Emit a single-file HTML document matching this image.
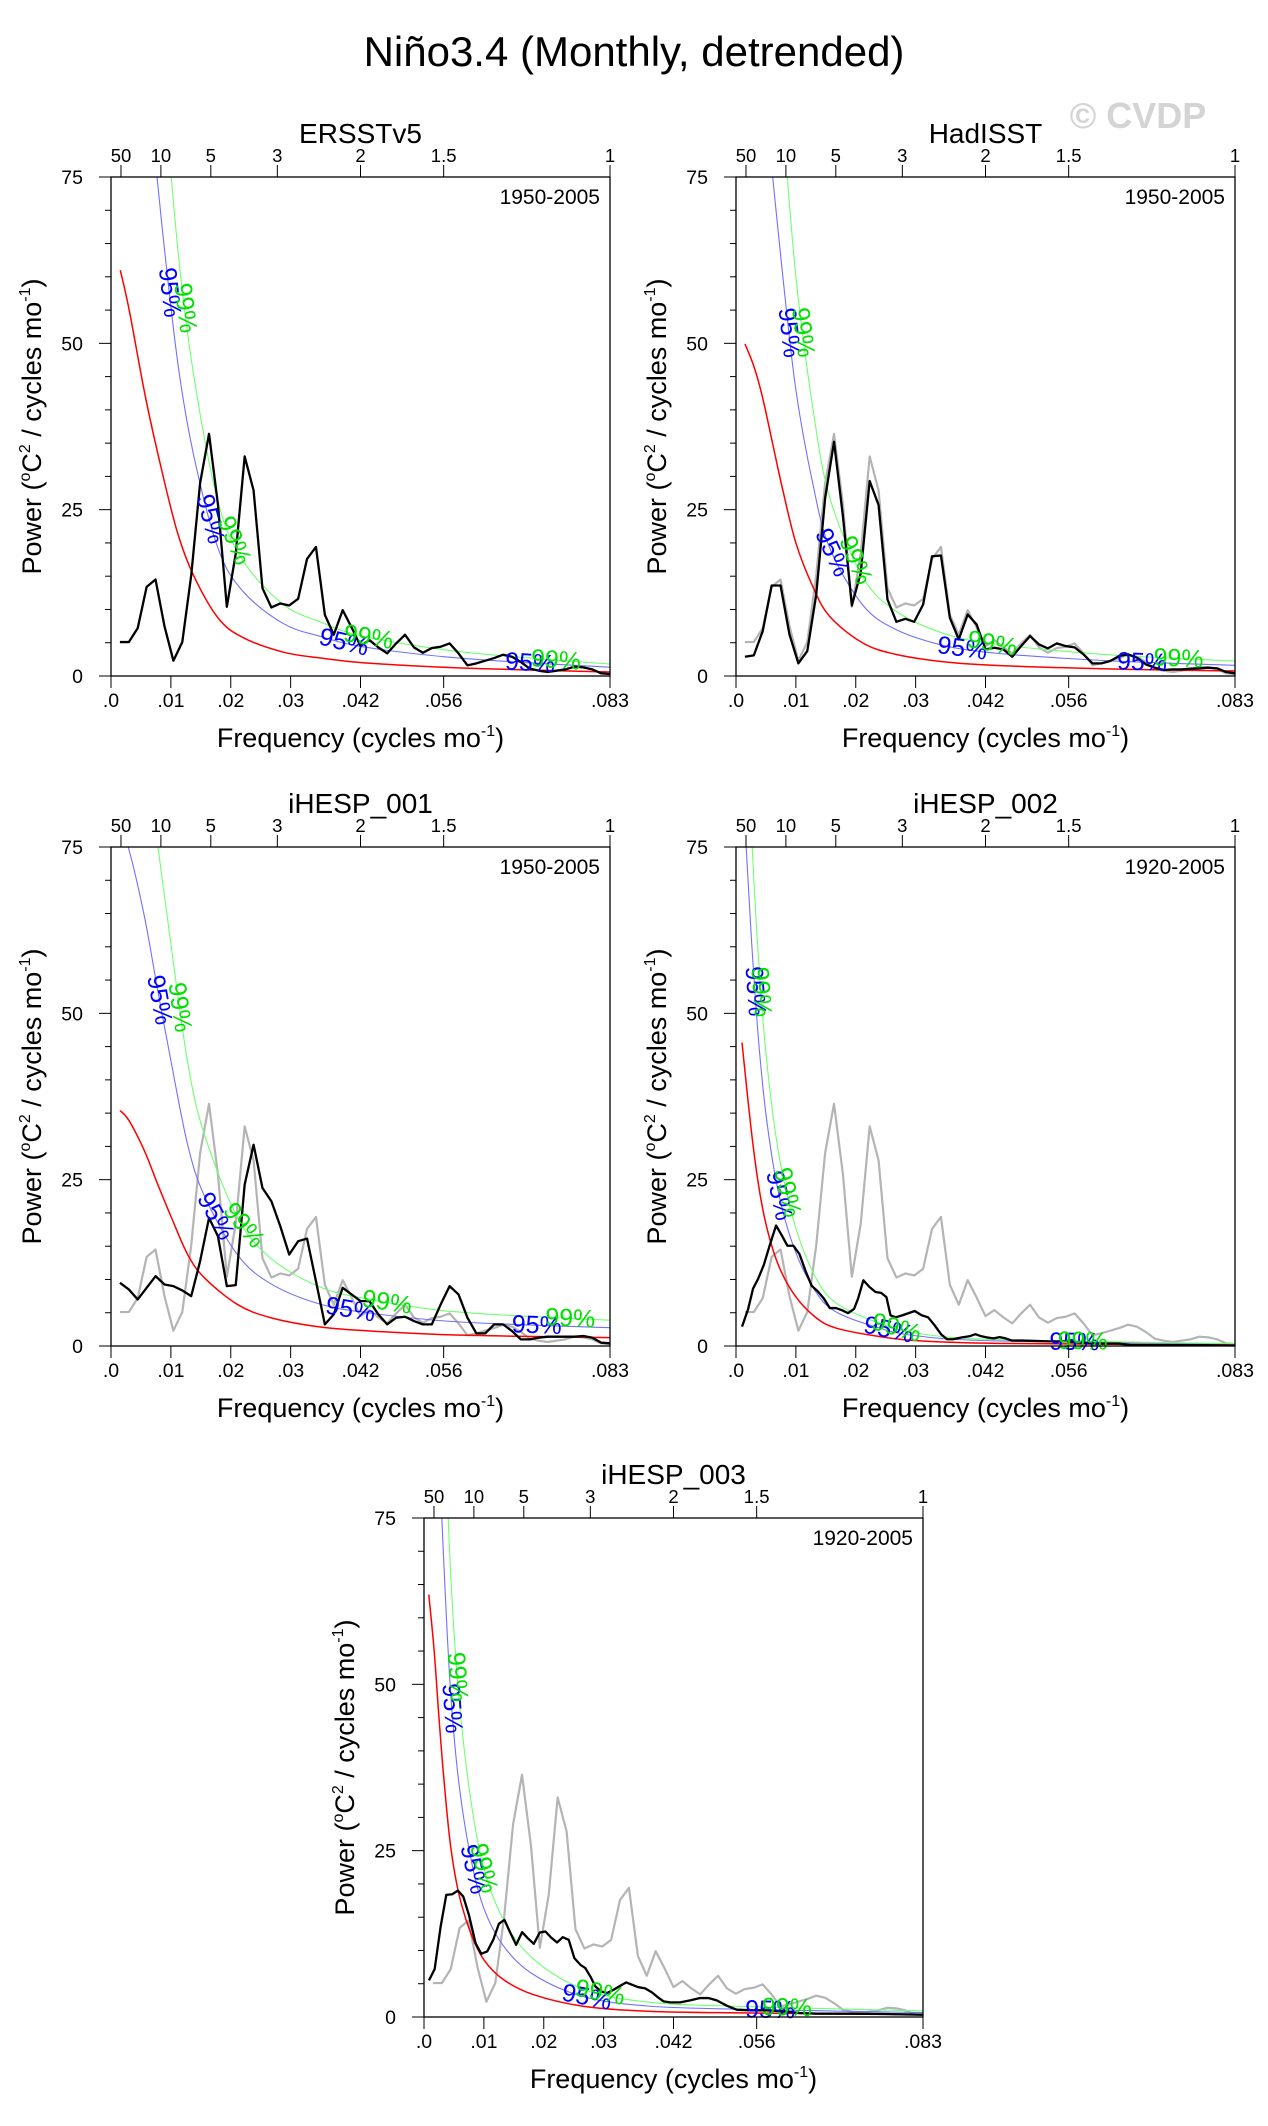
<!DOCTYPE html>
<html><head><meta charset="utf-8">
<style>
html,body{margin:0;padding:0;background:#fff;}
svg{display:block;font-family:"Liberation Sans",Arial,sans-serif;}
</style></head>
<body>
<svg id="fig" width="1268" height="2126" viewBox="0 0 1268 2126" xmlns="http://www.w3.org/2000/svg">
<text x="634" y="66" text-anchor="middle" font-size="42" fill="#000">Niño3.4 (Monthly, detrended)</text>
<text x="1138" y="128" text-anchor="middle" font-size="36" font-weight="bold" fill="#d4d4d4">© CVDP</text>
</svg>
<script>
// ---------- data ----------
const ersstVals = [5.1,5.1,7.2,13.4,14.5,7.5,2.3,5.1,15.1,29,36.4,25.8,10.4,18.4,33,27.9,13.2,10.3,10.9,10.6,11.6,17.6,19.4,9.2,6.2,9.9,7.3,4.5,5.4,4.3,3.4,4.9,6.2,4.3,3.5,4.2,4.4,4.9,3.4,1.6,1.9,2.3,2.7,3.2,2.9,2.1,1.1,0.8,0.6,0.8,1.0,1.4,1.3,1.0,0.4,0.3];
const hadisstVals = [2.9,3.1,6.75,13.6,13.6,6.25,1.9,3.75,12.2,26.7,35.2,24,10.6,15.5,29.3,25.7,11.5,8.15,8.6,8.15,10.75,18,18.1,8.75,5.5,9.25,7.75,4,4.25,4,2.9,4.5,6,4.75,4.15,4.9,4.5,4.3,3.25,1.9,1.9,2.25,3,3.25,2.75,1.75,1.25,0.9,1,1,1.1,1.15,1.25,1.15,0.6,0.4];
const hesp001Vals = [9.5,8.5,7,8.75,10.5,9.25,9,8.35,7.5,12.75,19.25,16.5,9,9.15,24.25,30.25,23.75,21.75,18,13.75,15.75,16.15,9.75,3.25,4.75,8.75,7.75,6.75,6.75,4.75,3.25,4.25,4.4,3.75,3.25,3.25,6.25,9,7.75,4.25,1.9,1.9,3.25,3.25,2.25,1,1,1.25,1.4,1.4,1.4,1.4,1.5,1.25,0.5,0.4];
const nMonths56 = 672;
const hesp002Freq = [.00101,.00203,.00284,.00371,.00466,.00561,.00669,.00763,.00858,.00959,.0106,.01162,.01263,.01364,.01465,.01567,.01668,.01769,.01871,.01972,.0204,.02127,.02229,.0233,.02424,.02512,.0258,.02667,.02782,.02884,.02985,.031,.03208,.03323,.03424,.03525,.03626,.03761,.03897,.03998,.04099,.042,.04302,.04403,.04504,.04606,.04774,.04977,.05247,.05517,.05787,.06058,.06395,.06598,.0707,.07746,.08333];
const hesp002Vals = [2.91,5.57,8.61,10.13,12.22,15.07,18.11,16.66,15.07,15.07,13.81,11.27,9.06,8.23,7.16,5.7,5.7,5.38,4.94,5.57,7.16,9.88,8.87,8.11,7.98,7.35,4.62,4.31,4.62,4.94,5.26,4.62,4.31,3.04,1.77,1.01,1.01,1.27,1.46,1.77,1.46,1.27,1.14,1.33,1.14,0.82,0.82,0.76,0.7,0.7,0.51,0.38,0.38,0.13,0.13,0.13,0.06];
const hesp003Freq = [.00083,.00178,.00278,.00372,.00472,.00567,.00656,.0075,.00861,.00956,.01056,.01156,.0125,.01344,.01444,.01539,.01639,.01733,.01833,.01933,.02028,.02122,.02222,.02317,.02417,.02511,.02611,.02694,.02778,.02861,.02956,.03056,.03167,.03278,.03378,.03472,.03572,.03694,.03806,.039,.04,.04111,.04278,.04444,.04611,.0475,.04889,.05056,.05222,.05444,.05722,.06,.06278,.06556,.07111,.07667,.08322];
const hesp003Vals = [5.5,7.2,13.6,18.35,18.45,19.0,18.1,15.35,11.1,9.5,9.85,11.6,14.0,14.6,12.6,10.85,12.75,11.85,11.0,12.7,12.85,11.95,11.2,12.0,11.6,8.85,7.85,7.35,6.1,4.6,3.85,3.6,4.1,4.7,5.2,4.85,4.5,4.3,3.7,3.0,2.35,2.2,2.2,2.5,2.85,2.85,2.5,1.7,1.1,1.0,1.0,0.85,0.6,0.5,0.5,0.45,0.35];
// red-noise spectra
const redF1 = [0.00155,0.00304,0.00574,0.00845,0.01115,0.01385,0.0179,0.022,0.0287,0.035,0.042,0.056,0.07,0.0833];
const redV1 = [61,55,42,31,21.4,15,8.7,5.8,3.6,2.7,2.0,1.3,0.9,0.6];
const redF2 = [0.0015,0.003,0.0044,0.0061,0.0078,0.01,0.0128,0.0156,0.0211,0.0267,0.035,0.0433,0.0544,0.0656,0.0833];
const redV2 = [49.9,46.5,42,35,28,20,13.5,9,5,3.25,2.1,1.6,1.25,1,0.75];
const redF3 = [0.0015,0.003,0.0056,0.0078,0.01,0.0128,0.0156,0.0211,0.0267,0.035,0.0433,0.0544,0.0656,0.0833];
const redV3 = [35.4,33.9,29.3,24.3,19.5,13.75,10.25,6.25,4.25,2.85,2.25,1.75,1.5,1.25];
const redF4 = [0.001,0.0025,0.0038,0.0052,0.0072,0.0099,0.0133,0.0167,0.0234,0.0302,0.0437,0.0833];
const redV4 = [45.6,32.8,24,17.6,11.9,7.5,4.3,2.7,1.5,0.8,0.4,0.15];
const redF5 = [0.0008,0.0017,0.0025,0.0033,0.0044,0.0058,0.0078,0.01,0.0133,0.0183,0.0267,0.0378,0.0544,0.0833];
const redV5 = [63.5,55,45,36,26,18.6,12.6,8.6,5.6,3.35,1.6,0.85,0.6,0.35];
const ci95Factor = [2.2,2.15,2.2,1.9,1.9];
const ci99Factor = [3.0,3.0,3.1,2.4,2.6];
const yTicks = [0,25,50,75];
const yTickLabels = ["0","25","50","75"];
const xTicks = [0,0.01,0.02,0.03,1/24,1/18,1/12];
const xTickLabels = [".0",".01",".02",".03",".042",".056",".083"];
const periodTicks = [50,10,5,3,2,1.5,1];
const periodLabels = ["50","10","5","3","2","1.5","1"];
const panelTitles = ["ERSSTv5","HadISST","iHESP_001","iHESP_002","iHESP_003"];
const panelYears = ["1950-2005","1950-2005","1950-2005","1920-2005","1920-2005"];

// ---------- layout ----------
const NS="http://www.w3.org/2000/svg";
const svg=document.getElementById('fig');
const SIZE=499, FMAX=1/12, YMAX=75;
const panels=[
 {left:111,top:177},{left:736,top:177},{left:111,top:847},{left:736,top:847},{left:424,top:1518}
];
const idx56 = ersstVals.map((v,i)=>(i+1)/nMonths56);
const series=[
 {f:idx56,v:ersstVals,ref:false},
 {f:idx56,v:hadisstVals,ref:true},
 {f:idx56,v:hesp001Vals,ref:true},
 {f:hesp002Freq,v:hesp002Vals,ref:true},
 {f:hesp003Freq,v:hesp003Vals,ref:true}
];
const reds=[[redF1,redV1],[redF2,redV2],[redF3,redV3],[redF4,redV4],[redF5,redV5]];
const lab95=[[0.0098,0.0166,0.0389,0.07],[0.0089,0.0161,0.0378,0.0678],[0.0081,0.0175,0.04,0.0711],[0.0032,0.0072,0.0255,0.0565],[0.0047,0.0083,0.0272,0.0578]];
const lab99=[[0.0124,0.0206,0.043,0.0743],[0.0112,0.02,0.0428,0.0739],[0.0115,0.0222,0.0461,0.0767],[0.0042,0.0086,0.0268,0.0579],[0.0056,0.01,0.0294,0.0606]];

function mk(tag,attrs,parent){const e=document.createElementNS(NS,tag);for(const k in attrs)e.setAttribute(k,attrs[k]);(parent||svg).appendChild(e);return e;}
function smoothPath(pts){
  let d='M'+pts[0][0].toFixed(2)+','+pts[0][1].toFixed(2);
  for(let i=0;i<pts.length-1;i++){
    const p0=pts[Math.max(0,i-1)],p1=pts[i],p2=pts[i+1],p3=pts[Math.min(pts.length-1,i+2)];
    const c1=[p1[0]+(p2[0]-p0[0])/6,p1[1]+(p2[1]-p0[1])/6];
    const c2=[p2[0]-(p3[0]-p1[0])/6,p2[1]-(p3[1]-p1[1])/6];
    d+=' C'+c1[0].toFixed(2)+','+c1[1].toFixed(2)+' '+c2[0].toFixed(2)+','+c2[1].toFixed(2)+' '+p2[0].toFixed(2)+','+p2[1].toFixed(2);
  }
  return d;
}
function interp(fs,vs,f){
  if(f<=fs[0])return vs[0];
  for(let i=0;i<fs.length-1;i++){if(f<=fs[i+1]){const t=(f-fs[i])/(fs[i+1]-fs[i]);return vs[i]+t*(vs[i+1]-vs[i]);}}
  return vs[vs.length-1];
}

panels.forEach((P,pi)=>{
  const X=f=>P.left+f/FMAX*SIZE;
  const Y=v=>P.top+SIZE-v/YMAX*SIZE;
  const g=mk('g',{});
  
  
  const cp=mk('clipPath',{id:'clip'+pi},g);
  mk('rect',{x:P.left,y:P.top,width:SIZE,height:SIZE},cp);
  const plot=mk('g',{'clip-path':'url(#clip'+pi+')'},g);

  if(series[pi].ref){
    const pts=series[0].f.map((f,i)=>X(f).toFixed(2)+','+Y(series[0].v[i]).toFixed(2)).join(' ');
    const pl=mk('polyline',{points:pts,fill:'none',stroke:'#b4b4b4','stroke-width':2.2,'stroke-linejoin':'round'},plot);
    
    
  }
  const rf=reds[pi][0], rv=reds[pi][1];
  const redPts=rf.map((f,i)=>[X(f),Y(rv[i])]);
  const b95=rv.map(v=>v*ci95Factor[pi]);
  const g99=rv.map(v=>v*ci99Factor[pi]);
  const p95=mk('path',{d:smoothPath(rf.map((f,i)=>[X(f),Y(b95[i])])),fill:'none',stroke:'#7070ff','stroke-width':1.1},plot);
  
  
  const p99=mk('path',{d:smoothPath(rf.map((f,i)=>[X(f),Y(g99[i])])),fill:'none',stroke:'#70ff70','stroke-width':1.1},plot);
  
  
  const pr=mk('path',{d:smoothPath(redPts),fill:'none',stroke:'#ff0000','stroke-width':1.5},plot);
  
  

  const s=series[pi];
  const pts=s.f.map((f,i)=>X(f).toFixed(2)+','+Y(s.v[i]).toFixed(2)).join(' ');
  const ml=mk('polyline',{points:pts,fill:'none',stroke:'#000','stroke-width':2.3,'stroke-linejoin':'round'},plot);
  
  

  function addLabels(list,vals,txt,col,name){
    list.forEach(f=>{
      const v=interp(rf,vals,f);
      const x=X(f),y=Y(v);
      const d=0.0008;
      const x1=X(f-d),y1=Y(interp(rf,vals,f-d)),x2=X(f+d),y2=Y(interp(rf,vals,f+d));
      const ang=Math.atan2(y2-y1,x2-x1)*180/Math.PI;
      const t=mk('text',{x:x,y:y,'text-anchor':'middle','dominant-baseline':'central','font-size':25,fill:col,transform:'rotate('+ang.toFixed(1)+' '+x.toFixed(1)+' '+y.toFixed(1)+')'},g);
      t.textContent=txt;
      
      
    });
  }
  addLabels(lab95[pi],b95,'95%','#0000ff','ci95-label');
  addLabels(lab99[pi],g99,'99%','#00e000','ci99-label');

  const fr=mk('rect',{x:P.left,y:P.top,width:SIZE,height:SIZE,fill:'none',stroke:'#000','stroke-width':1.3},g);
  
  
  for(let v=0;v<=YMAX;v+=5){
    const major=v%25===0;
    mk('line',{x1:P.left-(major?12:6),x2:P.left,y1:Y(v),y2:Y(v),stroke:'#000','stroke-width':1},g);
  }
  yTicks.forEach((v,i)=>{
    const t=mk('text',{x:P.left-28,y:Y(v)+7,'text-anchor':'end','font-size':19.5},g);
    t.textContent=yTickLabels[i];
    
    
  });
  xTicks.forEach((f,i)=>{
    mk('line',{x1:X(f),x2:X(f),y1:P.top+SIZE,y2:P.top+SIZE+12,stroke:'#000','stroke-width':1},g);
    const t=mk('text',{x:X(f),y:P.top+SIZE+31,'text-anchor':'middle','font-size':19.5},g);
    t.textContent=xTickLabels[i];
    
    
  });
  periodTicks.forEach((p,i)=>{
    const f=1/(12*p);
    mk('line',{x1:X(f),x2:X(f),y1:P.top,y2:P.top-12,stroke:'#000','stroke-width':1},g);
    const t=mk('text',{x:X(f),y:P.top-15,'text-anchor':'middle','font-size':18.5},g);
    t.textContent=periodLabels[i];
    
    
  });
  const tt=mk('text',{x:P.left+SIZE/2,y:P.top-34,'text-anchor':'middle','font-size':28},g);
  tt.textContent=panelTitles[pi];
  
  
  const yr=mk('text',{x:P.left+SIZE-10,y:P.top+27,'text-anchor':'end','font-size':21},g);
  yr.textContent=panelYears[pi];
  
  
  const xt=mk('text',{x:P.left+SIZE/2,y:P.top+SIZE+71,'text-anchor':'middle','font-size':27},g);
  xt.innerHTML='Frequency (cycles mo<tspan dy="-11" font-size="16">-1</tspan><tspan dy="11">)</tspan>';
  
  
  const cx=P.left-79, cy=P.top+SIZE/2;
  const yt=mk('text',{x:cx,y:cy+9,'text-anchor':'middle','font-size':27,transform:'rotate(-90 '+cx+' '+cy+')'},g);
  yt.innerHTML='Power (<tspan dy="-11" font-size="16">o</tspan><tspan dy="11">C</tspan><tspan dy="-11" font-size="16">2</tspan><tspan dy="11"> / cycles mo</tspan><tspan dy="-11" font-size="16">-1</tspan><tspan dy="11">)</tspan>';
  
  
});
</script>
</body></html>
